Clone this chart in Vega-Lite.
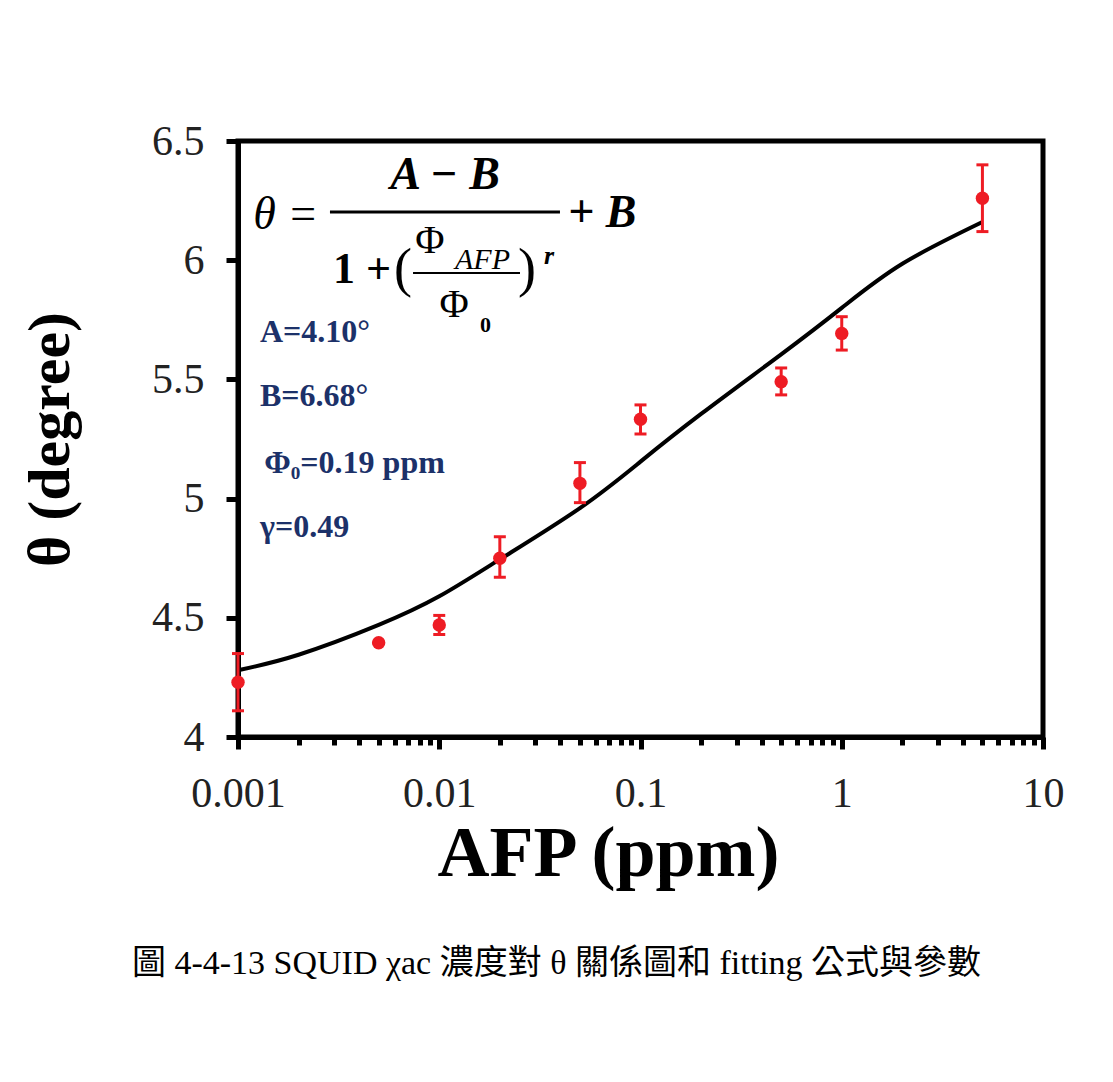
{
  "$schema": "https://vega.github.io/schema/vega-lite/v6.json",
  "width": 805,
  "height": 596,
  "autosize": "none",
  "padding": {"left": 238, "top": 141, "right": 70, "bottom": 345},
  "background": "white",
  "config": {
    "view": {"stroke": "black", "strokeWidth": 5},
    "axis": {
      "domainColor": "black", "domainWidth": 5,
      "tickColor": "black", "tickWidth": 5, "grid": false,
      "labelFont": "Liberation Serif", "labelFontSize": 42, "labelColor": "#222222",
      "titleFont": "Liberation Serif", "titleFontWeight": "bold", "titleColor": "black"
    }
  },
  "title": {
    "text": "圖 4-4-13 SQUID χac 濃度對 θ 關係圖和 fitting 公式與參數",
    "orient": "bottom", "anchor": "middle", "dx": -84, "offset": 58,
    "font": "Liberation Serif, Noto Sans CJK TC", "fontSize": 34, "fontWeight": "normal", "color": "black"
  },
  "datasets": {
    "fit": [
      {"x": 0.001, "y": 4.28}, {"x": 0.002, "y": 4.345}, {"x": 0.005, "y": 4.47},
      {"x": 0.01, "y": 4.59}, {"x": 0.02, "y": 4.745}, {"x": 0.05, "y": 4.96},
      {"x": 0.1, "y": 5.155}, {"x": 0.2, "y": 5.355}, {"x": 0.5, "y": 5.605},
      {"x": 1, "y": 5.8}, {"x": 2, "y": 5.985}, {"x": 5, "y": 6.16}
    ],
    "pts": [
      {"x": 0.001, "y": 4.23, "lo": 4.11, "hi": 4.35},
      {"x": 0.005, "y": 4.395, "lo": 4.395, "hi": 4.395},
      {"x": 0.01, "y": 4.47, "lo": 4.43, "hi": 4.51},
      {"x": 0.02, "y": 4.75, "lo": 4.67, "hi": 4.84},
      {"x": 0.05, "y": 5.064, "lo": 4.983, "hi": 5.151},
      {"x": 0.1, "y": 5.333, "lo": 5.271, "hi": 5.393},
      {"x": 0.5, "y": 5.49, "lo": 5.435, "hi": 5.548},
      {"x": 1, "y": 5.693, "lo": 5.623, "hi": 5.763},
      {"x": 5, "y": 6.26, "lo": 6.12, "hi": 6.40}
    ],
    "fx": [
      {"k": "eq", "x": 0.00119, "y": 6.19, "t": "θ ="},
      {"k": "num", "x": 0.01068, "y": 6.357, "t": "A − B"},
      {"k": "plusb", "x": 0.04365, "y": 6.20, "t": "+ B"},
      {"k": "one", "x": 0.002965, "y": 5.959, "t": "1 +"},
      {"k": "paren", "x": 0.006606, "y": 5.959, "t": "("},
      {"k": "paren", "x": 0.02729, "y": 5.959, "t": ")"},
      {"k": "phi", "x": 0.008995, "y": 6.081, "t": "Φ"},
      {"k": "phi", "x": 0.01184, "y": 5.812, "t": "Φ"},
      {"k": "sub", "x": 0.01198, "y": 6.001, "t": "AFP"},
      {"k": "sub0", "x": 0.01594, "y": 5.728, "t": "0"},
      {"k": "r", "x": 0.03509, "y": 6.018, "t": "r"}
    ],
    "bars": [
      {"w": "big", "x": 0.002864, "x2": 0.0398, "y": 6.202},
      {"w": "small", "x": 0.007408, "x2": 0.02519, "y": 5.946}
    ],
    "params": [
      {"x": 0.001286, "y": 5.699, "t": "A=4.10°"},
      {"x": 0.001286, "y": 5.430, "t": "B=6.68°"},
      {"x": 0.00135, "y": 5.149, "t": "Φ₀=0.19 ppm"},
      {"x": 0.001286, "y": 4.881, "t": "γ=0.49"}
    ]
  },
  "layer": [
    {
      "data": {"name": "fit"},
      "mark": {"type": "line", "color": "black", "strokeWidth": 4, "interpolate": "natural"},
      "encoding": {
        "x": {
          "field": "x", "type": "quantitative",
          "scale": {"type": "log", "domain": [0.001, 10], "nice": false},
          "axis": {
            "values": [0.001, 0.002, 0.003, 0.004, 0.005, 0.006, 0.007, 0.008, 0.009,
                       0.01, 0.02, 0.03, 0.04, 0.05, 0.06, 0.07, 0.08, 0.09,
                       0.1, 0.2, 0.3, 0.4, 0.5, 0.6, 0.7, 0.8, 0.9,
                       1, 2, 3, 4, 5, 6, 7, 8, 9, 10],
            "format": "~g",
            "labelExpr": "(datum.value === 0.001 || datum.value === 0.01 || datum.value === 0.1 || datum.value === 1 || datum.value === 10) ? datum.label : ''",
            "tickSize": {"condition": {"test": "datum.value === 0.001 || datum.value === 0.01 || datum.value === 0.1 || datum.value === 1 || datum.value === 10", "value": 12}, "value": 8},
            "labelOverlap": false, "labelFlush": false, "labelPadding": 24,
            "title": "AFP (ppm)", "titleFontSize": 72, "titlePadding": 4,
            "titleX": 370, "titleAlign": "center"
          }
        },
        "y": {
          "field": "y", "type": "quantitative",
          "scale": {"domain": [4, 6.5], "nice": false, "zero": false},
          "axis": {
            "values": [4, 4.5, 5, 5.5, 6, 6.5], "format": "~g",
            "tickSize": 12, "labelPadding": 22,
            "title": "θ (degree)", "titleFontSize": 60, "titlePadding": 70
          }
        }
      }
    },
    {
      "data": {"name": "pts"},
      "mark": {"type": "rule", "color": "#ee1c24", "strokeWidth": 3, "opacity": 1},
      "encoding": {
        "x": {"field": "x", "type": "quantitative"},
        "y": {"field": "lo", "type": "quantitative"},
        "y2": {"field": "hi"}
      }
    },
    {
      "data": {"name": "pts"},
      "mark": {"type": "tick", "color": "#ee1c24", "orient": "horizontal", "size": 12, "thickness": 3, "opacity": 1},
      "encoding": {
        "x": {"field": "x", "type": "quantitative"},
        "y": {"field": "lo", "type": "quantitative"}
      }
    },
    {
      "data": {"name": "pts"},
      "mark": {"type": "tick", "color": "#ee1c24", "orient": "horizontal", "size": 12, "thickness": 3, "opacity": 1},
      "encoding": {
        "x": {"field": "x", "type": "quantitative"},
        "y": {"field": "hi", "type": "quantitative"}
      }
    },
    {
      "data": {"name": "pts"},
      "mark": {"type": "point", "shape": "circle", "filled": true, "color": "#ee1c24", "size": 180, "opacity": 1},
      "encoding": {
        "x": {"field": "x", "type": "quantitative"},
        "y": {"field": "y", "type": "quantitative"}
      }
    },
    {
      "data": {"name": "bars"},
      "transform": [{"filter": "datum.w === 'big'"}],
      "mark": {"type": "rule", "color": "black", "strokeWidth": 3},
      "encoding": {
        "x": {"field": "x", "type": "quantitative"},
        "x2": {"field": "x2"},
        "y": {"field": "y", "type": "quantitative"}
      }
    },
    {
      "data": {"name": "bars"},
      "transform": [{"filter": "datum.w === 'small'"}],
      "mark": {"type": "rule", "color": "black", "strokeWidth": 2},
      "encoding": {
        "x": {"field": "x", "type": "quantitative"},
        "x2": {"field": "x2"},
        "y": {"field": "y", "type": "quantitative"}
      }
    },
    {
      "data": {"name": "fx"},
      "transform": [{"filter": "datum.k === 'eq'"}],
      "mark": {"type": "text", "font": "Liberation Serif", "fontStyle": "italic", "fontSize": 46, "align": "left", "baseline": "middle", "color": "black"},
      "encoding": {
        "x": {"field": "x", "type": "quantitative"},
        "y": {"field": "y", "type": "quantitative"},
        "text": {"field": "t"}
      }
    },
    {
      "data": {"name": "fx"},
      "transform": [{"filter": "datum.k === 'num'"}],
      "mark": {"type": "text", "font": "Liberation Serif", "fontStyle": "italic", "fontWeight": "bold", "fontSize": 46, "align": "center", "baseline": "middle", "color": "black"},
      "encoding": {
        "x": {"field": "x", "type": "quantitative"},
        "y": {"field": "y", "type": "quantitative"},
        "text": {"field": "t"}
      }
    },
    {
      "data": {"name": "fx"},
      "transform": [{"filter": "datum.k === 'plusb'"}],
      "mark": {"type": "text", "font": "Liberation Serif", "fontStyle": "italic", "fontWeight": "bold", "fontSize": 46, "align": "left", "baseline": "middle", "color": "black"},
      "encoding": {
        "x": {"field": "x", "type": "quantitative"},
        "y": {"field": "y", "type": "quantitative"},
        "text": {"field": "t"}
      }
    },
    {
      "data": {"name": "fx"},
      "transform": [{"filter": "datum.k === 'one'"}],
      "mark": {"type": "text", "font": "Liberation Serif", "fontWeight": "bold", "fontSize": 44, "align": "left", "baseline": "middle", "color": "black"},
      "encoding": {
        "x": {"field": "x", "type": "quantitative"},
        "y": {"field": "y", "type": "quantitative"},
        "text": {"field": "t"}
      }
    },
    {
      "data": {"name": "fx"},
      "transform": [{"filter": "datum.k === 'paren'"}],
      "mark": {"type": "text", "font": "Liberation Serif", "fontSize": 54, "align": "center", "baseline": "middle", "color": "black"},
      "encoding": {
        "x": {"field": "x", "type": "quantitative"},
        "y": {"field": "y", "type": "quantitative"},
        "text": {"field": "t"}
      }
    },
    {
      "data": {"name": "fx"},
      "transform": [{"filter": "datum.k === 'phi'"}],
      "mark": {"type": "text", "font": "Liberation Serif", "fontSize": 40, "align": "center", "baseline": "middle", "color": "black"},
      "encoding": {
        "x": {"field": "x", "type": "quantitative"},
        "y": {"field": "y", "type": "quantitative"},
        "text": {"field": "t"}
      }
    },
    {
      "data": {"name": "fx"},
      "transform": [{"filter": "datum.k === 'sub'"}],
      "mark": {"type": "text", "font": "Liberation Serif", "fontStyle": "italic", "fontSize": 30, "align": "left", "baseline": "middle", "color": "black"},
      "encoding": {
        "x": {"field": "x", "type": "quantitative"},
        "y": {"field": "y", "type": "quantitative"},
        "text": {"field": "t"}
      }
    },
    {
      "data": {"name": "fx"},
      "transform": [{"filter": "datum.k === 'sub0'"}],
      "mark": {"type": "text", "font": "Liberation Serif", "fontWeight": "bold", "fontSize": 22, "align": "left", "baseline": "middle", "color": "black"},
      "encoding": {
        "x": {"field": "x", "type": "quantitative"},
        "y": {"field": "y", "type": "quantitative"},
        "text": {"field": "t"}
      }
    },
    {
      "data": {"name": "fx"},
      "transform": [{"filter": "datum.k === 'r'"}],
      "mark": {"type": "text", "font": "Liberation Serif", "fontStyle": "italic", "fontWeight": "bold", "fontSize": 26, "align": "center", "baseline": "middle", "color": "black"},
      "encoding": {
        "x": {"field": "x", "type": "quantitative"},
        "y": {"field": "y", "type": "quantitative"},
        "text": {"field": "t"}
      }
    },
    {
      "data": {"name": "params"},
      "mark": {"type": "text", "font": "Liberation Serif", "fontWeight": "bold", "fontSize": 32, "align": "left", "baseline": "middle", "color": "#1c3169"},
      "encoding": {
        "x": {"field": "x", "type": "quantitative"},
        "y": {"field": "y", "type": "quantitative"},
        "text": {"field": "t"}
      }
    }
  ]
}
